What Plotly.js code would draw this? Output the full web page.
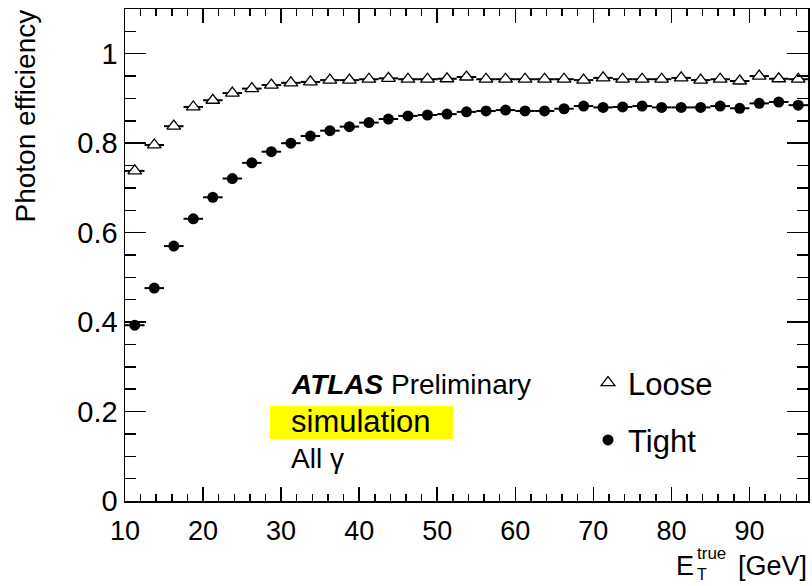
<!DOCTYPE html>
<html>
<head>
<meta charset="utf-8">
<script src="https://cdn.plot.ly/plotly-3.0.1.min.js"></script>
<style>
html, body { margin: 0; padding: 0; background: #fff; }
#chart { width: 812px; height: 586px; }
</style>
</head>
<body>
<div id="chart"></div>
<script>
// Bin centres in E_T^true [GeV] (bins 2.5 GeV wide)
const etTrue = [11.25, 13.75, 16.25, 18.75, 21.25, 23.75, 26.25, 28.75, 31.25, 33.75,
                36.25, 38.75, 41.25, 43.75, 46.25, 48.75, 51.25, 53.75, 56.25, 58.75,
                61.25, 63.75, 66.25, 68.75, 71.25, 73.75, 76.25, 78.75, 81.25, 83.75,
                86.25, 88.75, 91.25, 93.75, 96.25];
const binHalfWidth = 1.25;

const looseEff = [0.738, 0.796, 0.838, 0.881, 0.896, 0.912, 0.922, 0.930, 0.935, 0.937,
                  0.941, 0.941, 0.943, 0.945, 0.943, 0.943, 0.944, 0.948, 0.943, 0.943,
                  0.943, 0.943, 0.943, 0.941, 0.946, 0.943, 0.943, 0.943, 0.946, 0.941,
                  0.943, 0.939, 0.950, 0.944, 0.943];

const tightEff = [0.393, 0.476, 0.570, 0.631, 0.679, 0.721, 0.756, 0.781, 0.800, 0.816,
                  0.828, 0.837, 0.846, 0.854, 0.861, 0.863, 0.865, 0.870, 0.872, 0.874,
                  0.872, 0.872, 0.877, 0.883, 0.880, 0.881, 0.883, 0.880, 0.880, 0.880,
                  0.883, 0.878, 0.889, 0.892, 0.885];

const seriesNames = ['Loose', 'Tight'];
const xRange = [10, 97.5];
const yRange = [0, 1.1];

const FONT = '"Liberation Sans", Arial, Helvetica, sans-serif';

const errX = {type: 'constant', value: binHalfWidth, thickness: 2, width: 0, color: '#000'};

const traces = [
  {
    type: 'scatter', mode: 'markers', name: seriesNames[0], legendgroup: 'a',
    x: etTrue, y: looseEff,
    marker: {symbol: 'triangle-up', size: 12, color: '#ffffff', line: {color: '#000', width: 1.3}},
    error_x: errX
  },
  {
    type: 'scatter', mode: 'markers', name: seriesNames[1], legendgroup: 'b',
    x: etTrue, y: tightEff,
    marker: {symbol: 'circle', size: 11, color: '#000'},
    error_x: errX
  }
];

// plot area in pixels
const L = 125, R = 4, T = 9, B = 85, W = 812, H = 586;
const pw = W - L - R, ph = H - T - B;
const px = (x) => (x - L) / pw;
const py = (y) => (H - B - y) / ph;

const layout = {
  width: W, height: H,
  margin: {l: L, r: R, t: T, b: B, pad: 0},
  paper_bgcolor: '#fff', plot_bgcolor: '#fff',
  font: {family: FONT, color: '#000'},
  showlegend: true,
  legend: {
    x: px(588), y: py(356), xanchor: 'left', yanchor: 'top',
    font: {family: FONT, size: 31, color: '#000'},
    bgcolor: 'rgba(0,0,0,0)', borderwidth: 0,
    traceorder: 'grouped', tracegroupgap: 14
  },
  xaxis: {
    range: xRange, dtick: 10, tick0: 0,
    ticks: 'inside', ticklen: 14, tickwidth: 1.5, tickcolor: '#000',
    minor: {dtick: 2, ticks: 'inside', ticklen: 7, tickwidth: 1.5, tickcolor: '#000'},
    showline: true, linecolor: '#000', linewidth: 1.5, mirror: 'allticks',
    showgrid: false, zeroline: false,
    tickfont: {family: FONT, size: 27, color: '#000'},
    ticklabelstandoff: 5
  },
  yaxis: {
    range: yRange, dtick: 0.2, tick0: 0,
    ticks: 'inside', ticklen: 21, tickwidth: 1.5, tickcolor: '#000',
    minor: {dtick: 0.05, ticks: 'inside', ticklen: 11, tickwidth: 1.5, tickcolor: '#000'},
    showline: true, linecolor: '#000', linewidth: 1.5, mirror: 'allticks',
    showgrid: false, zeroline: false,
    tickfont: {family: FONT, size: 29, color: '#000'},
    ticklabelstandoff: 0
  },
  shapes: [
    {type: 'rect', xref: 'paper', yref: 'paper',
     x0: px(270), x1: px(453), y0: py(439), y1: py(406),
     fillcolor: '#ffff00', line: {width: 0}, layer: 'below'}
  ],
  annotations: [
    // y-axis title, top aligned like the ROOT original
    {xref: 'paper', yref: 'paper', x: px(25), y: py(9), xanchor: 'center', yanchor: 'top',
     textangle: -90, showarrow: false, text: 'Photon efficiency', borderpad: 0,
     font: {family: FONT, size: 28, color: '#000'}},
    // x-axis title E_T^true [GeV], right aligned
    {xref: 'paper', yref: 'paper', x: px(695), y: py(566), xanchor: 'right', yanchor: 'middle',
     showarrow: false, text: 'E', borderpad: 0, font: {family: FONT, size: 27, color: '#000'}},
    {xref: 'paper', yref: 'paper', x: px(696), y: py(553), xanchor: 'left', yanchor: 'middle',
     showarrow: false, text: 'true', borderpad: 0, font: {family: FONT, size: 17, color: '#000'}},
    {xref: 'paper', yref: 'paper', x: px(696), y: py(574.5), xanchor: 'left', yanchor: 'middle',
     showarrow: false, text: 'T', borderpad: 0, font: {family: FONT, size: 16, color: '#000'}},
    {xref: 'paper', yref: 'paper', x: px(808), y: py(566), xanchor: 'right', yanchor: 'middle',
     showarrow: false, text: '[GeV]', borderpad: 0, font: {family: FONT, size: 27, color: '#000'}},
    // ATLAS label
    {xref: 'paper', yref: 'paper', x: px(289), y: py(384), xanchor: 'left', yanchor: 'middle',
     showarrow: false, text: '<b><i>ATLAS</i></b> Preliminary',
     font: {family: FONT, size: 28, color: '#000'}},
    {xref: 'paper', yref: 'paper', x: px(289), y: py(422), xanchor: 'left', yanchor: 'middle',
     showarrow: false, text: 'simulation',
     font: {family: FONT, size: 31, color: '#000'}},
    {xref: 'paper', yref: 'paper', x: px(289), y: py(458), xanchor: 'left', yanchor: 'middle',
     showarrow: false, text: 'All γ',
     font: {family: FONT, size: 28, color: '#000'}}
  ]
};

Plotly.newPlot('chart', traces, layout, {staticPlot: true, displayModeBar: false});
</script>
</body>
</html>
